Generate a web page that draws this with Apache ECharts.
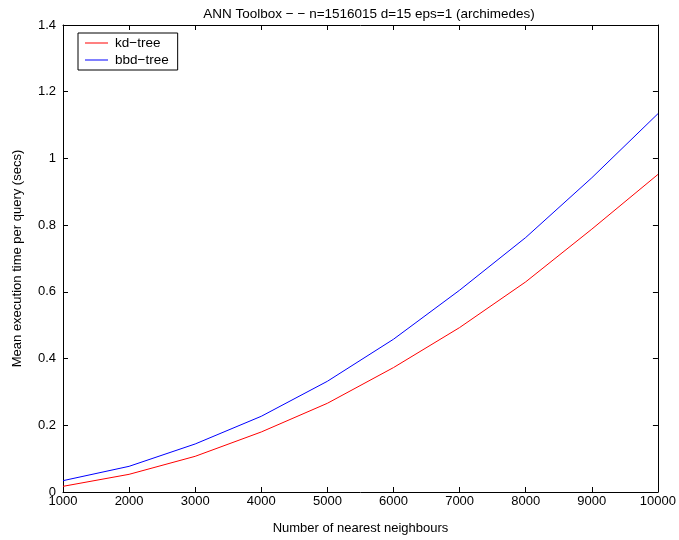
<!DOCTYPE html>
<html>
<head>
<meta charset="utf-8">
<script src="https://cdn.jsdelivr.net/npm/echarts@6/dist/echarts.min.js"></script>
<style>
    html, body { margin: 0; padding: 0; background: #fff; }
    #main { width: 679px; height: 540px; }
</style>
</head>
<body>
<div id="main"></div>
<script>
// 数据
var neighbours = [1000, 2000, 3000, 4000, 5000, 6000, 7000, 8000, 9000, 10000];
var kdTree = [0.017, 0.053, 0.107, 0.180, 0.266, 0.373, 0.493, 0.630, 0.788, 0.952];
var bbdTree = [0.034, 0.077, 0.144, 0.227, 0.332, 0.458, 0.605, 0.763, 0.942, 1.134];

function pairs(xs, ys) {
    var out = [];
    for (var i = 0; i < xs.length; i++) {
        out.push([xs[i], ys[i]]);
    }
    return out;
}

var font = 'Liberation Sans, Arial, sans-serif';
var fs = 13;
var chart = echarts.init(document.getElementById('main'));

// 四周带刻度的坐标轴
function axisStyle() {
    return {
        axisLine: { show: true, onZero: false, lineStyle: { color: '#000', width: 1 } },
        axisTick: { show: true, inside: true, length: 5, lineStyle: { color: '#000' } },
        splitLine: { show: false }
    };
}

var option = {
    backgroundColor: '#fff',
    animation: false,
    title: {
        text: 'ANN Toolbox \u2212 \u2212 n=1516015 d=15 eps=1 (archimedes)',
        left: 364,
        textAlign: 'center',
        top: 2,
        textStyle: { fontFamily: font, fontSize: 13.5, fontWeight: 'normal', color: '#000' }
    },
    legend: {
        orient: 'vertical',
        left: 78,
        top: 33,
        padding: [3, 9, 3, 7],
        itemGap: 3,
        itemWidth: 23,
        itemHeight: 10,
        icon: 'path://M0,4.5 L23,4.5 L23,5.5 L0,5.5 Z',
        borderColor: '#000',
        borderWidth: 1,
        backgroundColor: '#fff',
        textStyle: { fontFamily: font, fontSize: 13.5, color: '#000', padding: [0, 0, 0, 2] },
        data: ['kd\u2212tree', 'bbd\u2212tree']
    },
    grid: { left: 63, right: 20, top: 25, bottom: 47 },
    xAxis: [
        Object.assign(axisStyle(), {
            type: 'value',
            min: 1000,
            max: 10000,
            interval: 1000,
            name: 'Number of nearest neighbours',
            nameLocation: 'middle',
            nameGap: 30,
            nameTextStyle: { fontFamily: font, fontSize: fs, color: '#000' },
            axisLabel: { fontFamily: font, fontSize: fs, color: '#000', margin: 3,
                formatter: function (v) { return String(v); } }
        }),
        Object.assign(axisStyle(), {
            type: 'value',
            position: 'top',
            min: 1000,
            max: 10000,
            interval: 1000,
            axisLabel: { show: false }
        })
    ],
    yAxis: [
        Object.assign(axisStyle(), {
            type: 'value',
            min: 0,
            max: 1.4,
            interval: 0.2,
            name: 'Mean execution time per query (secs)',
            nameLocation: 'middle',
            nameGap: 39,
            nameTextStyle: { fontFamily: font, fontSize: fs, color: '#000' },
            axisLabel: { fontFamily: font, fontSize: fs, color: '#000', margin: 7 }
        }),
        Object.assign(axisStyle(), {
            type: 'value',
            position: 'right',
            min: 0,
            max: 1.4,
            interval: 0.2,
            axisLabel: { show: false }
        })
    ],
    series: [{
        name: 'kd\u2212tree',
        type: 'line',
        showSymbol: false,
        symbol: 'none',
        color: '#ff0000',
        lineStyle: { color: '#ff0000', width: 1 },
        data: pairs(neighbours, kdTree)
    }, {
        name: 'bbd\u2212tree',
        type: 'line',
        showSymbol: false,
        symbol: 'none',
        color: '#0000ff',
        lineStyle: { color: '#0000ff', width: 1 },
        data: pairs(neighbours, bbdTree)
    }]
};
chart.setOption(option, true);
</script>
</body>
</html>
